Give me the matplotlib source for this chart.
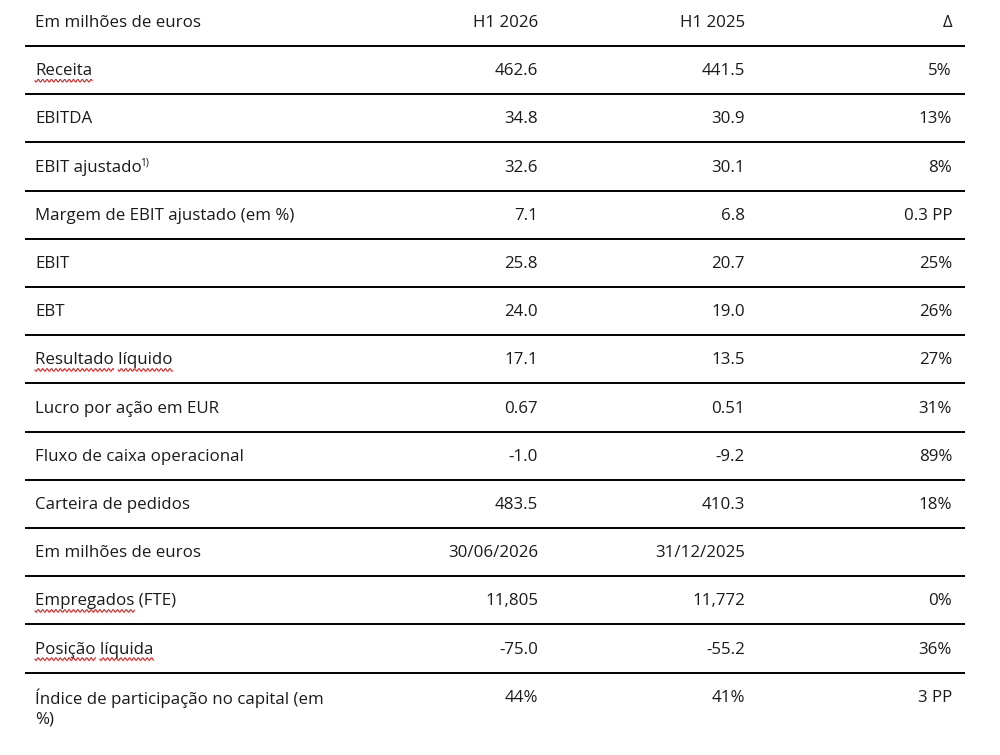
import matplotlib.pyplot as plt
import numpy as np

plt.rcParams['font.family'] = ['Open Sans', 'DejaVu Sans']

header_1 = ["Em milhões de euros", "H1 2026", "H1 2025", "Δ"]
labels_1 = ["Receita", "EBITDA", "EBIT ajustado", "Margem de EBIT ajustado (em %)",
            "EBIT", "EBT", "Resultado líquido", "Lucro por ação em EUR",
            "Fluxo de caixa operacional", "Carteira de pedidos"]
h1_2026 = ["462.6", "34.8", "32.6", "7.1", "25.8", "24.0", "17.1", "0.67", "-1.0", "483.5"]
h1_2025 = ["441.5", "30.9", "30.1", "6.8", "20.7", "19.0", "13.5", "0.51", "-9.2", "410.3"]
delta_1 = ["5%", "13%", "8%", "0.3 PP", "25%", "26%", "27%", "31%", "89%", "18%"]

header_2 = ["Em milhões de euros", "30/06/2026", "31/12/2025", ""]
labels_2 = ["Empregados (FTE)", "Posição líquida",
            "Índice de participação no capital (em\n%)"]
jun_2026 = ["11,805", "-75.0", "44%"]
dec_2025 = ["11,772", "-55.2", "41%"]
delta_2 = ["0%", "36%", "3 PP"]

# words flagged by the spell checker (red wavy underline)
flagged = {"Receita": ["Receita"], "Resultado líquido": ["Resultado", "líquido"],
           "Empregados (FTE)": ["Empregados"], "Posição líquida": ["Posição", "líquida"]}

rows = [header_1] + [list(r) for r in zip(labels_1, h1_2026, h1_2025, delta_1)] \
    + [header_2] + [list(r) for r in zip(labels_2, jun_2026, dec_2025, delta_2)]

fig = plt.figure(figsize=(10, 7.55), dpi=100)
ax = fig.add_axes([0, 0, 1, 1])
ax.set_xlim(0, 1000)
ax.set_ylim(755, 0)
ax.axis('off')

text_color = '#1a1a1a'
fs = 12.2
row_h = 48.2
y0 = 23
x_label = 35
x_cols = [538, 745, 952]

fig.canvas.draw()
renderer = fig.canvas.get_renderer()


def text_width(s):
    t = ax.text(0, 0, s, fontsize=fs)
    bb = t.get_window_extent(renderer)
    t.remove()
    return bb.width


for i, row in enumerate(rows):
    y = y0 + i * row_h
    label = row[0]
    if "\n" in label:
        first, second = label.split("\n")
        ax.text(x_label, y, first, fontsize=fs, color=text_color, va='center', ha='left')
        ax.text(x_label, y + 22, second, fontsize=fs, color=text_color, va='center', ha='left')
    else:
        ax.text(x_label, y, label, fontsize=fs, color=text_color, va='center', ha='left')
        if label == "EBIT ajustado":
            w = text_width(label)
            ax.text(x_label + w - 2, y - 5, "1)", fontsize=fs * 0.6, color=text_color,
                    va='center', ha='left')
    for x, val in zip(x_cols, row[1:]):
        ax.text(x, y, val, fontsize=fs, color=text_color, va='center', ha='right')

    for word in flagged.get(label, []):
        start = label.index(word)
        x_start = x_label + text_width(label[:start] + "x") - text_width("x") if start else x_label
        x_end = x_label + text_width(label[:start + len(word)])
        xs = np.linspace(x_start, x_end, int((x_end - x_start) * 2))
        ys = y + 9.5 + 1.3 * np.sin((xs - x_start) * np.pi / 2.2)
        ax.plot(xs, ys, color='#e02020', lw=0.8)

    if i < len(rows) - 1:
        ax.plot([25, 965], [y + 23, y + 23], color='black', lw=1.4, solid_capstyle='butt')

fig.savefig("out.png", dpi=100)
